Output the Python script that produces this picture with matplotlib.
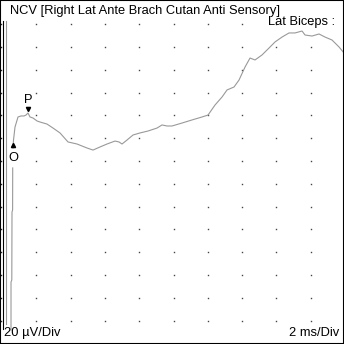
import matplotlib
matplotlib.use("Agg")
import matplotlib.pyplot as plt

# sweep: 2 ms/Div across, 20 uV/Div down
t_ms = [0.525, 0.525, 0.571, 0.583, 0.618, 0.624]
v_uv = [-148.2, -106.1, -104.4, -44.7, -43.0, -6.1]

t2_ms = [0.641, 0.671, 0.758, 0.933, 1.108, 1.283, 1.399, 1.516, 1.633, 1.808,
         2.041, 2.216, 2.624, 2.974, 3.382, 3.848, 4.373, 4.956, 5.306, 5.714,
         6.122, 6.589, 6.822, 6.997, 7.289, 7.638, 8.047, 8.513, 9.038, 9.329,
         9.621, 9.913, 10.496, 11.079, 11.662, 12.012, 12.420, 12.828, 13.120,
         13.528, 13.819, 14.169, 14.461, 14.752, 15.160, 15.569, 15.918, 16.327,
         16.735, 17.085, 17.493, 17.668, 18.076, 18.484, 18.834, 19.242, 19.650,
         19.942]
v2_uv = [11.4, 18.4, 29.8, 38.6, 39.5, 39.5, 40.3, 42.1, 38.6, 37.7,
         35.1, 34.2, 32.4, 28.9, 24.6, 16.7, 14.9, 11.4, 9.6, 12.3,
         14.9, 17.5, 16.7, 14.9, 18.4, 22.8, 24.6, 26.3, 28.9, 31.6,
         30.7, 30.7, 33.3, 36.0, 38.6, 40.3, 49.1, 56.1, 62.3,
         64.9, 71.0, 82.4, 90.3, 88.6, 93.0, 99.1, 104.4, 108.7,
         112.3, 112.3, 114.0, 110.5, 109.6, 111.4, 108.7, 106.1, 100.0,
         94.7]

onset = (0.65, 14.0)
peak = (1.52, 46.0)

grid_t = [2, 4, 6, 8, 10, 12, 14, 16, 18]
grid_v = [120, 100, 80, 60, 40, 20, 0, -20, -40, -60, -80, -100, -120, -140]

fig = plt.figure(figsize=(3.44, 3.44), dpi=100)
ax = fig.add_axes([0, 0, 1, 1])
ax.set_xlim(-0.117, 19.94)
ax.set_ylim(-160.5, 141.2)
ax.axis("off")

fam = ["Liberation Sans", "DejaVu Sans"]

# dotted grid
for t in grid_t:
    ax.plot([t] * len(grid_v), grid_v, ls="none", marker="s", ms=1.0,
            mec="none", mfc="#444444")
ax.plot([-0.03] * len(grid_v), grid_v, ls="none", marker="s", ms=1.0,
        mec="none", mfc="#222222")

# left axis line and second trace
ax.plot([0.06, 0.06], [123, -147], color="black", lw=0.8)
ax.plot([0.25, 0.25], [123, -143], color="#999999", lw=0.8)

ax.plot(t_ms, v_uv, color="#999999", lw=0.8)
ax.plot(t2_ms, v2_uv, color="#999999", lw=0.8)

# markers
ax.plot(*onset, marker="^", color="black", ms=3)
ax.text(onset[0], onset[1] - 6, "O", ha="center", va="top", fontsize=9.3,
        family=fam)
ax.plot(*peak, marker="v", color="black", ms=3)
ax.text(peak[0], peak[1] + 2.5, "P", ha="center", va="bottom", fontsize=9.3,
        family=fam)

# labels
ax.text(0.03, 0.968, "NCV [Right Lat Ante Brach Cutan Anti Sensory]",
        transform=ax.transAxes, ha="left", va="center", fontsize=9.3,
        family=fam)
ax.text(0.975, 0.935, "Lat Biceps :", transform=ax.transAxes, ha="right",
        va="center", fontsize=9.3, family=fam)
ax.text(0.012, 0.032, "20 \u00b5V/Div", transform=ax.transAxes, ha="left",
        va="center", fontsize=9.3, family=fam)
ax.text(0.985, 0.032, "2 ms/Div", transform=ax.transAxes, ha="right",
        va="center", fontsize=9.3, family=fam)

# frame
fig.patches.append(plt.Rectangle((0, 0), 1, 1, transform=fig.transFigure,
                                 fill=False, ec="black", lw=1.5))

fig.savefig("out.png", dpi=100)
